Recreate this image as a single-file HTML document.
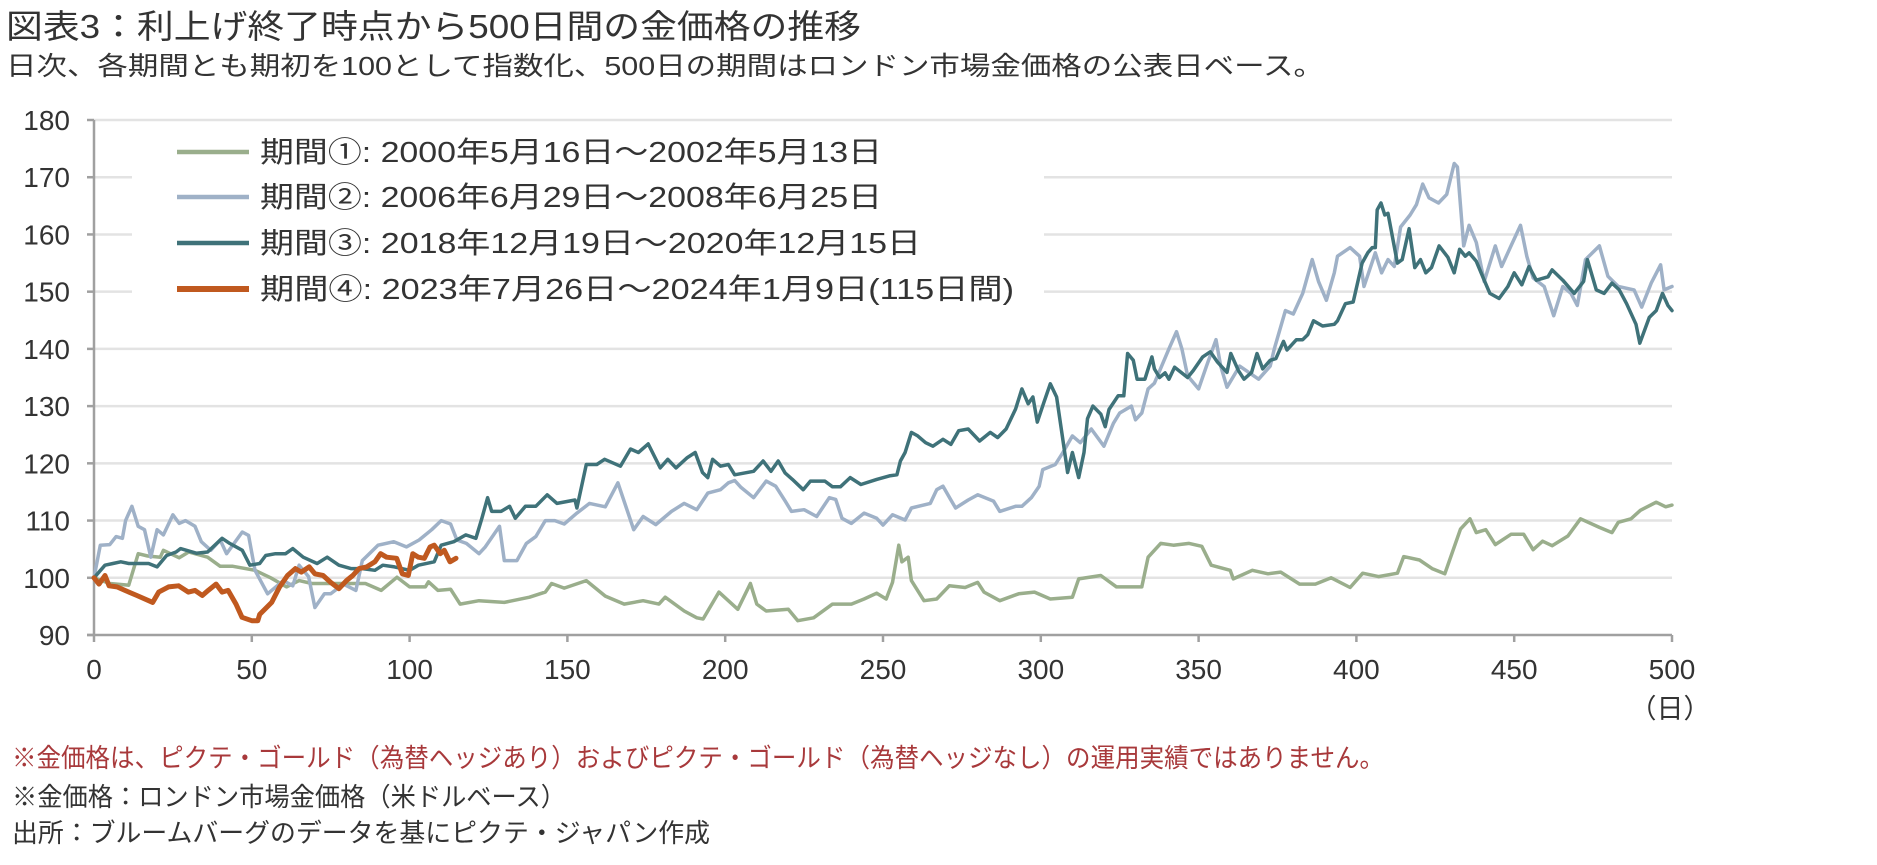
<!DOCTYPE html>
<html><head><meta charset="utf-8">
<style>
html,body{margin:0;padding:0;background:#fff;}
body{width:1877px;height:865px;position:relative;overflow:hidden;font-family:"Liberation Sans","Noto Sans CJK JP",sans-serif;color:#333;}
.t{position:absolute;white-space:nowrap;transform-origin:0 50%;line-height:1;}
svg{position:absolute;left:0;top:0;}
</style></head>
<body>
<div class="t" id="title" data-w="855" style="left:6px;top:10px;font-size:33px;color:#333;">図表3：利上げ終了時点から500日間の金価格の推移</div>
<div class="t" id="sub" data-w="1318" style="left:6px;top:53px;font-size:26px;color:#333;">日次、各期間とも期初を100として指数化、500日の期間はロンドン市場金価格の公表日ベース。</div>
<svg id="chart" width="1877" height="865"></svg>
<div class="t fit" data-w="1372" style="left:12px;top:745px;font-size:26px;color:#a8393b;">※金価格は、ピクテ・ゴールド（為替ヘッジあり）およびピクテ・ゴールド（為替ヘッジなし）の運用実績ではありません。</div>
<div class="t fit" data-w="554" style="left:12px;top:784px;font-size:26px;color:#333;">※金価格：ロンドン市場金価格（米ドルベース）</div>
<div class="t fit" data-w="698" style="left:12px;top:820px;font-size:26px;color:#333;">出所：ブルームバーグのデータを基にピクテ・ジャパン作成</div>
<script>
const yTicks=[90,100,110,120,130,140,150,160,170,180];
const xTicks=[0,50,100,150,200,250,300,350,400,450,500];
const legendLabels=["期間①: 2000年5月16日～2002年5月13日","期間②: 2006年6月29日～2008年6月25日","期間③: 2018年12月19日～2020年12月15日","期間④: 2023年7月26日～2024年1月9日(115日間)"];

const s1Days=[0,5,11,14,17,21,22,27,30,36,40,44,51,56,61,65,69,74,86,91,96,100,105,106,109,113,116,122,130,138,143,145,149,156,162,168,174,179,181,187,191,193,198,204,208,210,213,220,223,228,234,240,244,248,251,253,255,256,258,259,263,267,271,276,280,282,287,293,298,303,310,312,319,324,332,334,338,342,347,351,354,360,361,367,372,376,382,387,392,398,402,407,413,415,420,424,428,433,436,438,441,444,449,453,456,459,462,467,471,477,481,483,487,490,495,498,500];
const s1Vals=[100,99,98.7,104.2,103.8,103.6,104.8,103.5,104.5,103.6,102,102,101.3,100,98.4,99.5,99,99,99,97.8,100.1,98.4,98.4,99.3,97.8,98,95.4,96,95.7,96.6,97.5,99,98.2,99.5,96.8,95.4,96,95.4,96.6,94.2,93,92.8,97.5,94.5,99,95.4,94.2,94.5,92.5,93,95.4,95.4,96.3,97.3,96.3,99.2,105.7,102.8,103.6,99.5,96,96.3,98.6,98.3,99.2,97.5,96,97.2,97.5,96.3,96.6,99.8,100.4,98.4,98.4,103.6,106,105.7,106,105.5,102.2,101.3,99.8,101.3,100.7,101,98.9,98.9,100,98.3,100.8,100.2,100.8,103.7,103.1,101.6,100.7,108.5,110.3,107.9,108.4,105.8,107.6,107.6,104.9,106.4,105.6,107.3,110.3,108.8,107.9,109.7,110.3,111.8,113.2,112.4,112.7];

const s2Days=[0,2,5,7,9,10,12,14,16,18,20,22,25,27,29,32,34,37,40,42,47,49,51,55,60,63,65,68,70,73,75,79,83,85,90,95,99,103,107,110,113,115,118,122,124,128.5,130,134,137,140,143,146,149,153,157,162,166,171,174,178,183,187,191,194.5,198.5,201,203,205,209,213,216,219,221,225,229,233,235,237,240,244,248,250,253,257,259,265,267,269,271.5,273,277,280,285,287,292,294,297,299.5,300.6,304.6,307,310,312.5,316,320,323,325,328.7,330,332,334,336,340.6,343,344.7,346.5,350,352.5,355.5,357,359,363,369,372.7,374,377.5,380,383,386,388,390.5,393,394,398,401,402.4,406,408,410,412,414,417,419,421,423,426,428.6,431,432,434,435.7,438,440.5,444,446,449,452,454,456,459.5,462.5,465.4,468,470,472.6,477,479.7,483,488,490.4,493.4,496.4,497.5,500];
const s2Vals=[100,105.7,105.8,107.2,106.9,110,112.5,109,108.4,103.6,108.4,107.5,111,109.5,110,109,106.3,104.8,106.6,104.2,108,107.4,101.3,97.2,99.5,98.6,102.2,100.2,94.8,97.2,97.2,98.9,97.8,103,105.7,106.3,105.4,106.6,108.4,110,109.4,106.6,106,104.2,105.4,109,103,103,106,107.2,110,110,109.4,111.3,113,112.4,116.6,108.4,110.7,109.3,111.6,113,111.9,114.8,115.4,116.6,117,115.8,114,116.9,116,113.4,111.6,111.9,110.7,114,113.7,110.4,109.5,111.3,110.4,109.2,111,110.1,112.2,113,115.4,116,113.6,112.2,113.6,114.5,113.4,111.6,112.5,112.5,114,116,118.9,119.8,121.9,124.8,123.6,126,123,127,128.8,130,127.6,128.8,133,134,140,143,140,135.3,133,137,141.6,137,133.3,137,134.7,137,140,146.7,146.1,149.7,155.6,151.8,148.5,153.3,156.2,157.7,156.2,150.9,156.8,153.3,155.6,154.4,161.3,163.4,165.2,168.8,166.4,165.5,167,172.4,171.8,158,161.6,158.6,151.8,158,154.4,158,161.6,156.2,152.4,150.9,145.8,150.9,149.7,147.6,155.6,158,152.7,150.9,150.3,147.3,151.5,154.7,150.3,150.9];

const s3Days=[0,3.5,6,8.5,11,17.3,20,23,26,27.4,32.4,36,40.6,43,47,49.4,52.5,54.4,57.5,60.7,63,66.3,70.7,73.9,77.6,81.4,85,89,91.5,95.2,100,102.8,107.8,110,114,117.8,121,122.9,124.7,126,129,131.7,133.5,136.7,140,143.6,146.7,152.4,153,156,159.3,161.8,166.8,170,172.5,175.6,179.4,181.8,184.4,188,190.5,192.8,194.5,196,198.5,201,203,209,212,214.5,216.8,219,221.3,224.7,227,231.6,234,236.5,239.6,243,248,252,254.4,255.5,257,259,261,263.5,265.8,269,271.5,274,277,280.6,284,286.3,289,292,294,296,297.5,298.9,301,303,305,306.8,308.5,310,312,313.7,314.8,316.5,319,320.4,321.6,324.5,326.3,327.5,329.3,330.5,333,335.2,336,337.6,339.4,340.6,342.4,346.5,348.3,351.3,353.7,356,359,360.2,362.6,364.4,366.8,368.5,370.3,372.7,374.5,376.9,378,381,383,384.6,386.4,389.3,393,394,396.5,399,401.8,403.6,405,406,406.6,407.8,409,410,413,414.5,416.7,418.5,420.3,422,423.8,426.2,429,431,432.7,434.5,435.7,438,440.5,442.3,445.2,448,450,452.4,454.7,457,460.7,462,465.4,469,472,473.2,476,478.5,481,483.3,485.6,488.6,489.8,492.8,495,497,498.7,500];
const s3Vals=[100,102.2,102.5,102.8,102.5,102.5,101.9,103.9,104.5,105.1,104.3,104.5,106.9,106,104.8,102.2,102.5,103.9,104.2,104.2,105.1,103.6,102.5,103.6,102.2,101.6,101.6,101.3,102.2,101.9,101.3,102.2,102.8,105.7,106.3,107.5,106.9,110.4,114,111.6,111.6,112.5,110.4,112.5,112.5,114.5,113,113.6,112.2,119.8,119.8,120.7,119.5,122.5,121.9,123.4,119.2,120.7,119.2,121,121.9,118.4,117.5,120.7,119.5,119.8,118,118.6,120.4,118.6,120.4,118.3,117.2,115.4,116.9,116.9,115.9,115.9,117.5,116.3,117.2,117.8,118,120.4,121.9,125.4,124.8,123.6,123,124.2,123.3,125.7,126,123.9,125.4,124.5,126,129.5,133,130.4,131.6,127.2,130.7,133.9,131.6,124.8,118.4,121.9,117.5,121.9,127.8,130,128.6,126.4,129.4,131.8,131.8,139.2,138,134.7,134.7,138.6,136.5,135,135.8,134.7,136.8,135,136.2,138.6,139.5,137.7,135.9,139.2,136.2,134.7,135.9,139.2,136.5,138,138.3,141.3,139.8,141.6,141.6,142.5,144.9,144,144.3,144.9,147.9,148.2,155,156.8,157.7,157.7,164.3,165.5,163.4,163.7,155,155.6,161,154.2,155.6,153.3,154.2,158,156,153.3,157.4,156.2,156.8,155.3,152,149.7,148.8,150.9,153.3,151.2,154.4,152,152.6,153.8,152,149.7,151.8,155.6,150.3,149.7,151.5,150.3,147.9,144.3,141,145.5,146.7,149.7,147.6,146.7,148.2];

const s4Days=[0,1.6,3.5,4.8,7.3,9.8,13.6,18.6,20.5,23.6,26.8,29.9,32,34.3,36.2,38.7,40.6,42.5,45,46.9,50,51.9,52.5,56.3,58.8,61.3,63.8,65.7,68.2,70,72.6,75,77.6,80,82,84,86.4,89,90.8,92.7,95.9,97.7,99.6,101,102.8,104.7,106.5,107.8,109.7,111,112.8,114.7];
const s4Vals=[100,98.9,100.4,98.6,98.4,97.8,96.9,95.7,97.5,98.4,98.6,97.5,97.8,96.9,97.8,98.9,97.5,97.8,95.4,93.1,92.5,92.5,93.6,95.7,98.4,100.4,101.6,101,101.9,100.7,100.4,99.2,98.1,99.5,100.4,101.6,101.9,102.8,104.2,103.6,103.4,100.7,100.4,104.2,103.6,103.4,105.4,105.7,104.2,104.8,102.8,103.4];

const X0=94,X1=1672,Y0=635,Y1=120;
function xs(d){return X0+(d/500)*(X1-X0);}
function ys(v){return Y0-(v-90)/90*(Y0-Y1);}
const NS="http://www.w3.org/2000/svg";
const svg=document.getElementById('chart');
function mk(tag,attrs,parent){const e=document.createElementNS(NS,tag);for(const k in attrs)e.setAttribute(k,attrs[k]);(parent||svg).appendChild(e);return e;}

// gridlines
yTicks.forEach(function(v){
  if(v===90) return;
  const y=ys(v);
  const hide=(v>=150&&v<=170);
  if(hide){
    const g1=mk('line',{x1:X0,x2:132,y1:y,y2:y,stroke:'#e3e3e3','stroke-width':2.5});
    
    
    const g2=mk('line',{x1:1044,x2:X1,y1:y,y2:y,stroke:'#e3e3e3','stroke-width':2.5});
    
    
  } else {
    const g=mk('line',{x1:X0,x2:X1,y1:y,y2:y,stroke:'#e3e3e3','stroke-width':2.5});
    
    
  }
});
// axes
const ya=mk('line',{x1:X0,x2:X0,y1:Y1,y2:Y0,stroke:'#a0a0a0','stroke-width':2.5});


const xa=mk('line',{x1:X0-7,x2:X1,y1:Y0,y2:Y0,stroke:'#a0a0a0','stroke-width':2.5});


yTicks.forEach(function(v){
  const y=ys(v);
  const tk=mk('line',{x1:X0-7,x2:X0,y1:y,y2:y,stroke:'#a0a0a0','stroke-width':2.5});
  
  
  const t=mk('text',{x:70,y:y+10,'text-anchor':'end','font-size':28,fill:'#333','font-family':'Liberation Sans, sans-serif'});
  t.textContent=String(v);
  
  
});
xTicks.forEach(function(d){
  const x=xs(d);
  const tk=mk('line',{x1:x,x2:x,y1:Y0,y2:Y0+7,stroke:'#a0a0a0','stroke-width':2.5});
  
  
  const t=mk('text',{x:x,y:679,'text-anchor':'middle','font-size':28,fill:'#333','font-family':'Liberation Sans, sans-serif'});
  t.textContent=String(d);
  
  
});
const unit=mk('text',{x:1670,y:718,'text-anchor':'middle','font-size':27,fill:'#333','font-family':'Liberation Sans, Noto Sans CJK JP, sans-serif'});
unit.textContent='（日）';



// series
const series=[
  {d:s1Days,v:s1Vals,c:'#9aae8c',w:3.5,n:'series-period-1'},
  {d:s2Days,v:s2Vals,c:'#9fb1c7',w:3.5,n:'series-period-2'},
  {d:s3Days,v:s3Vals,c:'#3f7279',w:3.5,n:'series-period-3'},
  {d:s4Days,v:s4Vals,c:'#c0591f',w:5,n:'series-period-4'}
];
series.forEach(function(s){
  let p='';
  for(let i=0;i<s.d.length;i++){p+=(i?'L':'M')+xs(s.d[i]).toFixed(1)+','+ys(s.v[i]).toFixed(1);}
  const path=mk('path',{d:p,fill:'none',stroke:s.c,'stroke-width':s.w,'stroke-linejoin':'round','stroke-linecap':'round'});
  
  
});

// legend
const legY=[152,197,243,289];
const legW=[622,622,661,754];
legendLabels.forEach(function(lab,i){
  const s=series[i];
  const ln=mk('line',{x1:177,x2:249,y1:legY[i],y2:legY[i],stroke:s.c,'stroke-width':i===3?6:4.5});
  
  
  const t=mk('text',{x:260,y:legY[i]+10,'font-size':29,fill:'#333','font-family':'Liberation Sans, Noto Sans CJK JP, sans-serif',textLength:legW[i],lengthAdjust:'spacingAndGlyphs'});
  t.textContent=lab;
  
  
});

// fit html text widths
document.querySelectorAll('.t').forEach(function(el){
  const target=parseFloat(el.getAttribute('data-w'));
  const w=el.getBoundingClientRect().width;
  if(w>0&&target) el.style.transform='scaleX('+(target/w)+')';
});
</script>
</body></html>
